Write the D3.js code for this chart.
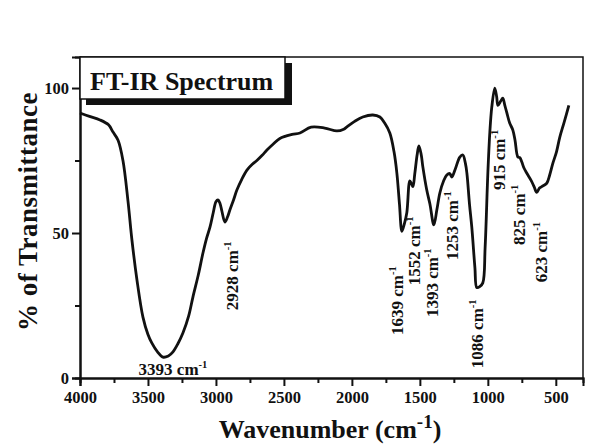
<!DOCTYPE html>
<html>
<head>
<meta charset="utf-8">
<script src="https://cdn.jsdelivr.net/npm/d3@7"></script>
<style>
  body { margin: 0; background: #fff; }
  svg text { font-family: "Liberation Serif", "DejaVu Serif", serif; font-weight: bold; fill: #111; }
</style>
</head>
<body>
<svg class="chart" width="593" height="448"></svg>
<script>
// spectrum (wavenumber cm-1, % transmittance)
var wavenumber = [4000, 3930, 3853, 3790, 3757, 3720, 3684, 3647, 3618, 3581, 3537, 3500, 3471, 3430, 3390,
  3350, 3316, 3280, 3243, 3200, 3169, 3130, 3096, 3070, 3044, 3020, 3000, 2985, 2970, 2956, 2934, 2915, 2897,
  2870, 2846, 2810, 2772, 2730, 2699, 2660, 2625, 2580, 2530, 2440, 2382, 2300, 2200, 2110, 2060, 2037, 1980,
  1920, 1846, 1794, 1760, 1721, 1690, 1669, 1650, 1632, 1615, 1596, 1574, 1562, 1551, 1537, 1520, 1507, 1490,
  1478, 1450, 1426, 1397, 1375, 1353, 1325, 1302, 1280, 1265, 1240, 1206, 1184, 1165, 1154, 1135, 1118, 1095,
  1081, 1060, 1037, 1020, 1000, 985, 971, 949, 935, 926, 905, 890, 875, 860, 840, 816, 800, 779, 765,
  750, 735, 713, 680, 660, 640, 620, 603, 585, 566, 545, 522, 495, 471, 440, 404];
var transmittance = [91.4, 90.2, 89, 87.3, 84.8, 82, 75, 61, 47.6, 33.8, 21, 15, 12, 9, 7.2,
  7.6, 9, 11.8, 15.5, 21.5, 28, 35.5, 43, 48, 52, 57, 60.8, 61.4, 60.2, 57.5, 53.8, 55.5, 58,
  61.5, 64.8, 68.5, 71.7, 73.8, 75, 76.8, 78.6, 80.6, 82.6, 84, 84.5, 86.5, 86.2, 85.2, 85.8, 86.6, 88.5,
  90, 90.7, 90, 88, 84.5, 78, 70.6, 60, 50.6, 53, 57, 68, 67, 66, 70.6, 77, 80, 77,
  72.8, 65, 60, 52.8, 58, 63.8, 68, 70, 70.5, 69.3, 72, 76.2, 76.9, 74, 70.6, 60, 52, 38,
  31.2, 31.5, 32.8, 45, 70.6, 85, 93.4, 100, 97, 94, 95.5, 96.5, 94, 91.4, 88, 85.5, 82, 76.2, 76,
  74.5, 72.5, 70.6, 68, 66, 64, 65.5, 66, 66.5, 67.2, 70, 74, 78, 83, 88, 94];

// peak labels: text and where it sits (wavenumber, transmittance of its start)
var peakNames = ['2928', '1639', '1552', '1393', '1253', '1086', '915', '825', '623'];
var peakAtWn = [2840, 1625, 1500, 1368, 1221, 1037, 875, 728, 566];
var peakAtT = [23.4, 14.8, 32, 21, 40.7, 3.4, 64.8, 45.9, 33];
var mainPeak = {name: '3393', wn: 3316, t: 1.2};

var xMajor = [4000, 3500, 3000, 2500, 2000, 1500, 1000, 500];
var xMinor = [3750, 3250, 2750, 2250, 1750, 1250, 750];
var yMajor = [0, 50, 100];
var yMinor = [25, 75];

var margin = {top: 57, right: 10, bottom: 70, left: 80},
    width = 593 - margin.left - margin.right,
    height = 448 - margin.top - margin.bottom;

var svg = d3.select(".chart");
var chart = svg.append("g")
    .attr("transform", "translate(" + margin.left + "," + margin.top + ")");

var x = d3.scaleLinear().domain([4000, 300]).range([0, width]);
var y = d3.scaleLinear().domain([0, 110.7]).range([height, 0]);

// frame (top and right)
chart.append("path")
    .attr("d", "M0,0H" + width + "V" + height)
    .attr("fill", "none")
    .attr("stroke", "#111")
    .attr("stroke-width", 1.5);

// axes
var xAxis = d3.axisBottom(x).tickValues(xMajor).tickSize(8).tickPadding(5).tickFormat(d3.format("d"));
var xAxisMinor = d3.axisBottom(x).tickValues(xMinor).tickSize(5).tickFormat("");
var yAxis = d3.axisLeft(y).tickValues(yMajor).tickSize(8).tickPadding(3).tickFormat(d3.format("d"));
var yAxisMinor = d3.axisLeft(y).tickValues(yMinor).tickSize(5).tickFormat("");

chart.append("g").attr("class", "axis")
    .attr("transform", "translate(0," + height + ")").call(xAxis);
chart.append("g").attr("class", "axis")
    .attr("transform", "translate(0," + height + ")").call(xAxisMinor);
chart.append("g").attr("class", "axis").call(yAxis);
chart.append("g").attr("class", "axis").call(yAxisMinor);

chart.selectAll(".axis path").attr("stroke", "#111").attr("stroke-width", 2);
chart.selectAll(".axis line").attr("stroke", "#111").attr("stroke-width", 2);
chart.selectAll(".axis text")
    .style("font-family", '"Liberation Serif", serif')
    .style("font-weight", "bold")
    .style("font-size", "16.5px")
    .attr("fill", "#111");

// spectrum
var points = wavenumber.map(function(wn, i) { return [wn, transmittance[i]]; });
var line = d3.line()
    .x(function(d) { return x(d[0]); })
    .y(function(d) { return y(d[1]); })
    .curve(d3.curveCatmullRom.alpha(0.5));

chart.append("path")
    .datum(points)
    .attr("fill", "none")
    .attr("stroke", "#111")
    .attr("stroke-width", 2.8)
    .attr("stroke-linejoin", "round")
    .attr("d", line);

// cm-1 label helper
function writeCm(sel, num, size) {
  sel.append("tspan").text(num + " cm");
  sel.append("tspan").attr("dy", -size * 0.4).style("font-size", (size * 0.62) + "px").text("-1");
}

chart.selectAll("text.peak")
    .data(peakNames)
    .enter().append("text")
    .attr("class", "peak")
    .attr("transform", function(d, i) {
      return "translate(" + x(peakAtWn[i]) + "," + y(peakAtT[i]) + ") rotate(-90)";
    })
    .style("font-size", "17px")
    .each(function(d) { writeCm(d3.select(this), d, 17); });

var mp = chart.append("text")
    .attr("x", x(mainPeak.wn))
    .attr("y", y(mainPeak.t))
    .attr("text-anchor", "middle")
    .style("font-size", "17px");
writeCm(mp, mainPeak.name, 17);

// title box with shadow
chart.append("rect")
    .attr("x", 6).attr("y", 6).attr("width", 206).attr("height", 42)
    .attr("fill", "#111");
chart.append("rect")
    .attr("x", 0).attr("y", 0).attr("width", 205).attr("height", 42)
    .attr("fill", "#fff").attr("stroke", "#111").attr("stroke-width", 1.5);
chart.append("text")
    .attr("x", 10).attr("y", 33)
    .style("font-size", "26px")
    .text("FT-IR Spectrum");

// axis titles
svg.append("text")
    .attr("transform", "translate(37," + (margin.top + height / 2 - 6) + ") rotate(-90)")
    .attr("text-anchor", "middle")
    .style("font-size", "27px")
    .style("letter-spacing", "0.5px")
    .text("% of Transmittance");

var xt = svg.append("text")
    .attr("x", 330)
    .attr("y", 438)
    .attr("text-anchor", "middle")
    .style("font-size", "26px");
xt.append("tspan").text("Wavenumber (cm");
xt.append("tspan").attr("dy", -10).style("font-size", "19px").text("-1");
xt.append("tspan").attr("dy", 10).text(")");
</script>
</body>
</html>
